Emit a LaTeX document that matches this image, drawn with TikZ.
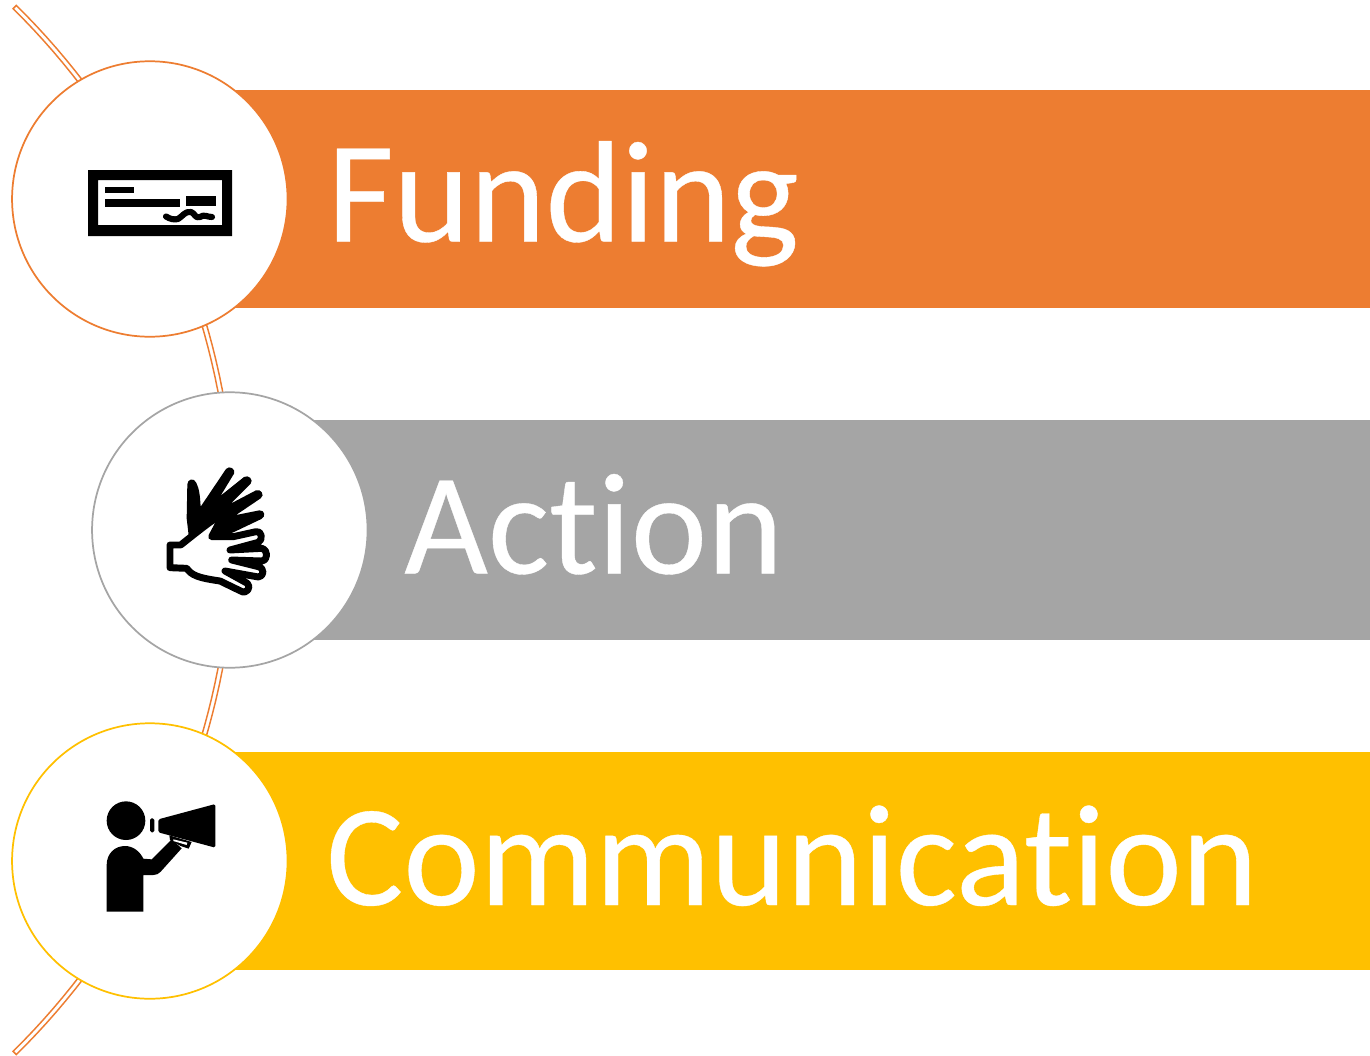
\documentclass[tikz,border=0pt]{standalone}
\usepackage{fontspec}
\setmainfont[Ligatures=NoCommon,FakeBold=0.25]{Carlito}
\tikzset{
  x=0.75pt,y=-0.75pt,
  disc/.style={circle,draw=#1,fill=white,line width=1.3pt,minimum size=206.6pt,inner sep=0pt},
  band/.style={draw=#1,fill=white,line width=1.1pt,line join=miter},
  label/.style={anchor=base west,text=white,inner sep=0pt,font=\fontsize{108.5}{116}\selectfont},
}
\definecolor{orangeC}{HTML}{ED7D31}
\definecolor{grayC}{HTML}{A5A5A5}
\definecolor{goldC}{HTML}{FFC000}
\begin{document}
\begin{tikzpicture}
\useasboundingbox (0,0) rectangle (1370,1056);
% bars
\fill[orangeC] (230,90) rectangle (1370,308);
\fill[grayC] (300,420) rectangle (1370,640);
\fill[goldC] (230,752) rectangle (1370,970);
% spine
\draw[band=orangeC]
  plot[domain=-45.4:45.4,samples=80] ({-501+736.8*cos(\x)},{530+736.8*sin(\x)})
  -- plot[domain=45.4:-45.4,samples=80] ({-501+732.2*cos(\x)},{530+732.2*sin(\x)}) -- cycle;
% discs
\node[disc=orangeC] (c1) at (149.8,199) {};
\node[disc=grayC] (c2) at (229.8,530) {};
\node[disc=goldC] (c3) at (149.8,861) {};
% labels
\node[label] (t1) at (327,241.5) {Funding};
\node[label] (t2) at (404,573.5) {Action};
\node[label] (t3) at (326,905) {Communication};
% cheque icon
\fill[black,even odd rule] (88,170) rectangle (232,236) (98,180) rectangle (222,225);
\fill (104.7,186.5) rectangle (134,193);
\fill (104.7,199) rectangle (179.5,206.5);
\fill (186,196) rectangle (216,206);
\draw[line width=4.6pt,line cap=round,line join=round] (166,216.5) .. controls (170,219) and (174,220) .. (178,219) .. controls (183,216) and (185,211) .. (191,212) .. controls (195,213) and (195,219) .. (200,217) .. controls (204,214) and (207,217) .. (212,217);
% hands icon
\begin{scope}[shift={(150,455)},x=0.25pt,y=-0.25pt]
  \fill (112,88) .. controls (112,72) and (132,68) .. (138,82) .. controls (150,105) and (150,130) .. (152,155) -- (228,42) .. controls (238,30) and (258,42) .. (252,56) -- (212,122) -- (282,66) .. controls (295,58) and (312,74) .. (302,86) -- (242,146) -- (318,106) .. controls (332,100) and (346,120) .. (332,130) -- (258,180) -- (328,166) .. controls (345,165) and (348,185) .. (334,192) -- (250,232) -- (120,275) -- (110,190) -- cycle;
  \draw[fill=white,line width=5.2pt,line join=round,line cap=round]
    (92,270) -- (60,270) -- (60,338) -- (110,340) .. controls (125,360) and (140,368) .. (210,378) -- (272,408) .. controls (290,420) and (305,395) .. (292,385) -- (225,348) -- (325,366) .. controls (342,365) and (345,340) .. (325,335) -- (245,315) -- (335,318) .. controls (355,315) and (355,285) .. (335,280) -- (240,285) -- (325,262) .. controls (340,255) and (335,225) .. (318,230) -- (250,245) -- (185,245) -- (224,172) .. controls (185,195) and (130,240) .. (92,270);
\end{scope}
% megaphone icon
\begin{scope}[shift={(90,790)},x=0.25pt,y=-0.25pt]
  \fill (108,92) circle[radius=58];
  \fill (50,365) -- (50,225) .. controls (50,190) and (75,168) .. (105,168) .. controls (130,168) and (150,185) .. (160,206) -- (185,208) -- (245,148) -- (275,175) -- (212,245) .. controls (205,252) and (200,255) .. (190,255) -- (160,255) -- (160,365) -- cycle;
  \fill[rounded corners=1.2pt] (180,85) rectangle (193,127);
  \fill[rounded corners=1.2pt] (205,88) -- (376,42) -- (376,173) -- (205,127) -- cycle;
  \fill (238,136) -- (305,156) -- (296,176) -- (272,168) -- (240,150) -- cycle;
  \fill[white] (250,148) -- (292,158) -- (290,165) -- (250,153) -- cycle;
\end{scope}
\end{tikzpicture}
\end{document}
